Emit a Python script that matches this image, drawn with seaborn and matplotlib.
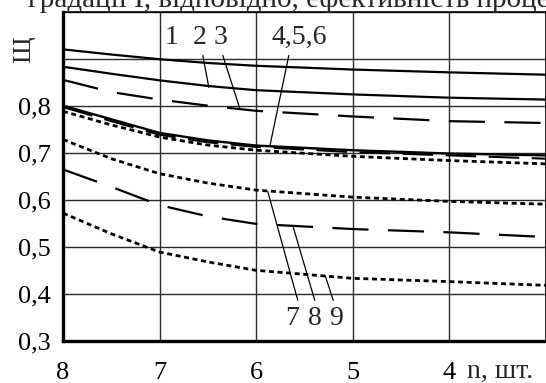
import matplotlib
matplotlib.use("Agg")
import matplotlib.pyplot as plt
import seaborn as sns
import numpy as np
import pandas as pd

# ---- data ----
n_vals = [8, 7.5, 7, 6.5, 6, 5, 4, 3]
c1 = [0.921, 0.910, 0.900, 0.892, 0.886, 0.878, 0.872, 0.867]
c2 = [0.884, 0.869, 0.855, 0.843, 0.834, 0.825, 0.818, 0.814]
c3 = [0.856, 0.830, 0.814, 0.801, 0.790, 0.778, 0.768, 0.764]
c4 = [0.801, 0.772, 0.743, 0.727, 0.716, 0.706, 0.699, 0.695]
c5 = [0.798, 0.768, 0.739, 0.723, 0.713, 0.702, 0.695, 0.688]
c6 = [0.789, 0.760, 0.734, 0.717, 0.706, 0.693, 0.684, 0.677]
c7 = [0.729, 0.688, 0.656, 0.636, 0.621, 0.606, 0.597, 0.591]
c8 = [0.665, 0.628, 0.589, 0.565, 0.549, 0.538, 0.531, 0.521]
c9 = [0.572, 0.528, 0.489, 0.468, 0.450, 0.433, 0.426, 0.418]

curve_names = ["1", "2", "3", "4", "5", "6", "7", "8", "9"]
x_ticks = [8, 7, 6, 5, 4, 3]
x_tick_labels = ["8", "7", "6", "5", "4", ""]
y_ticks = [0.3, 0.4, 0.5, 0.6, 0.7, 0.8, 0.9, 1.0]
y_tick_labels = ["0,3", "0,4", "0,5", "0,6", "0,7", "0,8", "", ""]
x_label = "n, шт."
y_label = "Щ"
top_text = "градації І, відповідно, ефективність процесу"

series = [c1, c2, c3, c4, c5, c6, c7, c8, c9]

sns.set_theme(style="white")
plt.rcParams["font.family"] = ["Liberation Serif", "DejaVu Serif"]
plt.rcParams["lines.scale_dashes"] = False

fig = plt.figure(figsize=(5.46, 3.83), dpi=100)
ax = fig.add_axes([63 / 546, 42.3 / 383, (545.5 - 63) / 546, 328.4 / 383])

solid = "-"
longdash = (0, (26, 14))
longdash2 = (0, (22, 9))
dotted = (0, (3.6, 2.6))
styles = [solid, solid, longdash, solid, longdash2, dotted, dotted, longdash, dotted]
widths = [1.6, 1.6, 1.6, 1.7, 1.5, 2.0, 2.0, 1.6, 2.0]

for name, vals, ls, lw in zip(curve_names, series, styles, widths):
    df = pd.DataFrame({"n": n_vals, "v": vals})
    sns.lineplot(data=df, x="n", y="v", ax=ax, color="black",
                 linestyle=ls, linewidth=lw, sort=False, zorder=3)

ax.set_xlim(8, 3)
ax.set_ylim(0.3, 1.0)
ax.set_xticks(x_ticks)
ax.set_xticklabels(x_tick_labels)
ax.set_yticks(y_ticks)
ax.set_yticklabels(y_tick_labels)
ax.set_xlabel("")
ax.set_ylabel("")
ax.grid(True, color="#2a2a2a", linewidth=1.0)
ax.tick_params(axis="both", length=0, labelsize=19, colors="black")
ax.tick_params(axis="x", pad=15)
ax.tick_params(axis="y", pad=9)
for s in ["left", "bottom"]:
    ax.spines[s].set_linewidth(2.4)
    ax.spines[s].set_color("black")
for s in ["top", "right"]:
    ax.spines[s].set_linewidth(1.2)
    ax.spines[s].set_color("black")

# curve labels with leader lines
fs = 20
ax.text(6.872, 0.946, "1", fontsize=fs, ha="center", va="center")
ax.text(6.58, 0.946, "2", fontsize=fs, ha="center", va="center")
ax.text(6.37, 0.946, "3", fontsize=fs, ha="center", va="center")
ax.text(5.556, 0.946, "4,5,6", fontsize=fs, ha="center", va="center")
ax.text(5.63, 0.348, "7", fontsize=fs, ha="center", va="center")
ax.text(5.39, 0.348, "8", fontsize=fs, ha="center", va="center")
ax.text(5.17, 0.348, "9", fontsize=fs, ha="center", va="center")

leaders = [((6.551, 0.908), (6.489, 0.840)),
           ((6.344, 0.908), (6.168, 0.795)),
           ((5.660, 0.908), (5.857, 0.714)),
           ((5.567, 0.386), (5.878, 0.618)),
           ((5.391, 0.386), (5.614, 0.542)),
           ((5.199, 0.386), (5.282, 0.438))]
for (x0, y0), (x1, y1) in leaders:
    ax.annotate("", xy=(x1, y1), xytext=(x0, y0),
                arrowprops=dict(arrowstyle="-", color="black", lw=0.9,
                                shrinkA=0, shrinkB=0))

fig.text(467 / 546, 1 - 378 / 383, x_label, fontsize=20, ha="left", va="baseline")
fig.text(24 / 546, 1 - 50 / 383, y_label, fontsize=19, rotation=90,
         ha="center", va="center")
fig.text(28 / 546, 1 - 7 / 383, top_text, fontsize=21, ha="left", va="baseline")

fig.savefig("out.png", dpi=100)
